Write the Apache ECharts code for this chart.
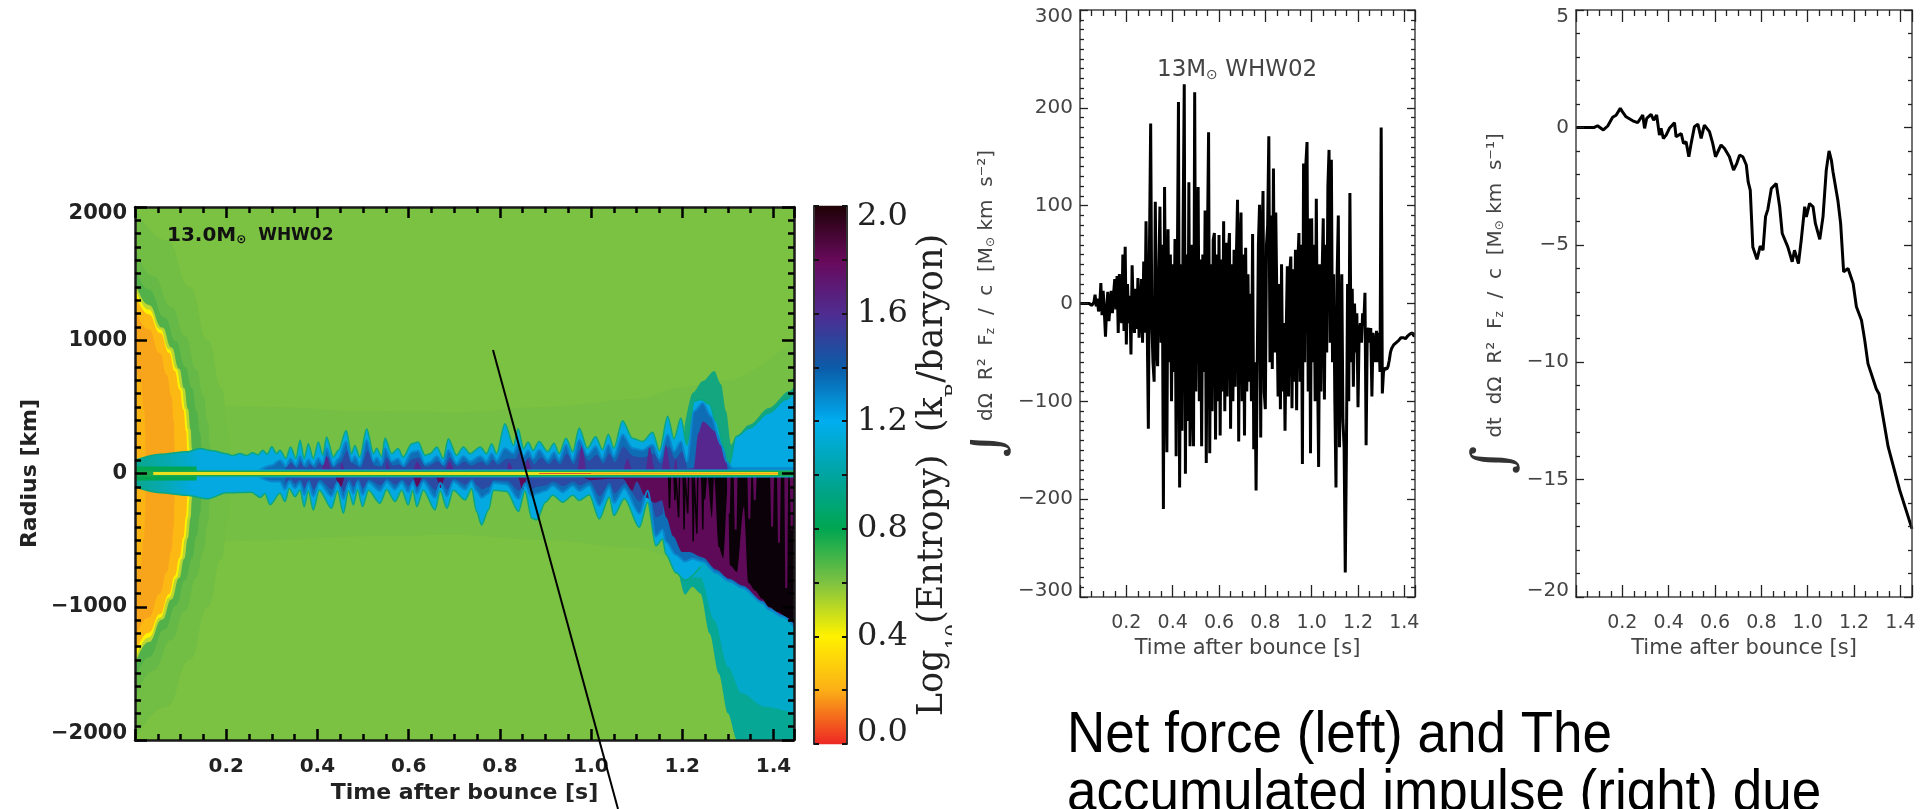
<!DOCTYPE html>
<html><head><meta charset="utf-8"><style>html,body{margin:0;padding:0;background:#fff}#c{width:1928px;height:809px}</style>
<script src="https://cdn.jsdelivr.net/npm/echarts@6/dist/echarts.min.js"></script></head>
<body><div id="c"></div>
<script>
const timeMax=[1.445,1.446,1.45];
const forceStep=0.005;
const forceValues=[
0,0,0,0,0,0,0,0,0,-1,-2,-1,1,9,-3,5,-8,-4,21,-12,
13,-8,-34,-5,12,-18,-2,13,-10,10,25,-6,28,-30,30,-12,-20,50,-28,58,
-42,20,-20,8,-52,39,-10,-30,15,-26,26,-35,-10,25,-40,43,-30,84,-20,-128,
60,184,-20,-60,-80,104,-40,-64,30,99,-40,60,-210,119,-30,-152,76,-60,50,-100,
40,-70,66,-156,30,206,-188,40,-130,80,224,-174,50,-120,124,-146,60,-90,-146,216,
-90,50,119,-100,45,-146,50,-70,95,-163,60,175,-153,40,-110,65,72,-139,50,-100,
70,-135,45,-90,84,-110,62,-95,50,72,-128,40,-100,55,-85,48,106,-141,55,93,
-100,50,-135,57,-90,30,-80,10,-100,71,-149,-60,-191,-192,60,101,-137,55,115,-90,
-108,60,80,171,-60,90,-67,138,-50,93,92,-95,20,-108,40,-90,-20,-130,-30,38,
-95,30,48,-107,35,-80,55,-109,40,72,-80,60,-164,143,-60,143,165,-90,87,-153,
87,-60,60,-100,107,-60,-167,40,-90,30,87,-98,60,-50,120,157,-40,147,-60,30,
-100,-188,30,90,-147,-60,30,-120,-147,-275,-150,20,-100,113,-60,15,-85,0,-50,-10,
-106,-30,-20,-40,-10,-20,11,-145,-30,-25,-40,-25,-95,-30,-30,-60,-28,-60,-30,-70,
180,-92,-70,-66,-68,-67,-64,-58,-50,-46,-44,-42,-42,-40,-38,-38,-37,-35,-36,-35,
-34,-36,-35,-33,-35,-31,-29,-30,-33,-33
];
const impulseCurve=[[0,0],[.079,0],[.093,.07],[.118,-.11],[.137,.06],[.158,.43],[.173,.52],[.191,.81],[.2,.67],[.216,.45],[.245,.28],[.266,.2],[.288,.53],[.296,-.04],[.305,.38],[.324,.55],[.335,.31],[.348,.53],[.36,-.33],[.367,-.04],[.377,-.47],[.389,-.33],[.403,-.04],[.425,.2],[.432,-.4],[.454,-.26],[.464,-.68],[.475,-.61],[.487,-1.25],[.497,-.68],[.511,.03],[.526,.14],[.54,-.47],[.554,.1],[.576,-.18],[.59,-.68],[.602,-1.25],[.626,-.75],[.641,-.9],[.662,-1.25],[.68,-1.82],[.694,-1.53],[.706,-1.18],[.72,-1.25],[.735,-1.6],[.743,-2.32],[.752,-2.67],[.763,-5.09],[.781,-5.62],[.795,-5.06],[.807,-5.23],[.818,-3.8],[.828,-3.49],[.843,-2.6],[.864,-2.39],[.879,-3.38],[.89,-4.52],[.914,-5.09],[.933,-5.72],[.943,-5.23],[.96,-5.8],[.972,-4.8],[.987,-3.38],[.994,-3.81],[1.008,-3.24],[1.023,-3.38],[1.033,-4.09],[1.052,-4.77],[1.066,-3.8],[1.08,-1.82],[1.092,-1],[1.102,-1.39],[1.109,-1.89],[1.13,-3.1],[1.142,-4.09],[1.155,-6.15],[1.174,-6.01],[1.196,-6.65],[1.21,-7.64],[1.232,-8.21],[1.246,-9.06],[1.26,-10.06],[1.296,-11.14],[1.308,-11.35],[1.347,-13.6],[1.397,-15.45],[1.45,-17.1]];
const fieldInner=[[.13,520],[.3,500],[.5,470],[.7,460],[.9,500],[1.1,560],[1.2,650],[1.3,700],[1.445,1000]];
const shellOuter=[[0,2000],[.07,1750],[.12,1400],[.16,1000],[.19,640],[.205,330],[.21,0]];
const shellSecond=[[0,1700],[.04,1480],[.08,1250],[.11,1030],[.135,780],[.15,580],[.16,380],[.165,200],[.168,0]];
const shellBand=[[0,1560],[.03,1380],[.065,1170],[.09,990],[.11,800],[.125,640],[.135,470],[.143,300],[.147,150],[.15,0]];
const shellPale=[[0,1440],[.03,1265],[.06,1095],[.08,945],[.097,785],[.108,640],[.116,485],[.122,330],[.125,187],[.127,0]];
const shellYellow=[[0,1400],[.03,1230],[.055,1082],[.075,930],[.091,783],[.102,640],[.11,485],[.116,330],[.119,187],[.122,0]];
const shellOrange=[[0,1360],[.03,1195],[.055,1055],[.075,905],[.087,770],[.098,630],[.106,480],[.112,320],[.115,180],[.118,0]];
const shellCore=[[0,1240],[.03,1080],[.055,900],[.07,740],[.08,580],[.085,400],[.087,200],[.088,0]];
const shellEdge=[[0,820],[.012,700],[.02,480],[.024,0]];
const tealHumpUpper=[[1.205,350],[1.223,606],[1.245,694],[1.27,770],[1.285,669],[1.296,467],[1.307,215],[1.318,278],[1.347,366],[1.39,492],[1.435,619],[1.445,650]];
const tealLower=[[1.19,-700],[1.206,-909],[1.222,-850],[1.24,-900],[1.26,-1200],[1.28,-1500],[1.30,-1800],[1.32,-2000],[1.445,-2000]];
const cyanWedgeLower=[[1.18,-500],[1.21,-780],[1.24,-780],[1.27,-1100],[1.30,-1450],[1.33,-1650],[1.38,-1750],[1.445,-1800]];
const cyanUpper=[[0,99],[.055,144],[.113,163],[.142,187],[.17,170],[.2,149],[.215,135],[.23,150],[.245,135],[.258,155],[.27,140],[.28,175],[.29,145],[.3,200],[.31,150],[.318,174],[.331,112],[.341,199],[.353,112],[.362,249],[.371,112],[.38,224],[.391,112],[.402,236],[.412,137],[.42,274],[.435,124],[.446,174],[.463,323],[.475,149],[.482,211],[.493,124],[.508,336],[.523,149],[.53,190],[.541,124],[.548,266],[.563,149],[.577,187],[.588,124],[.607,224],[.621,236],[.636,137],[.647,149],[.662,199],[.676,112],[.687,261],[.705,137],[.72,199],[.735,149],[.757,199],[.771,149],[.782,224],[.793,149],[.811,373],[.83,211],[.84,336],[.852,187],[.862,236],[.873,174],[.886,240],[.905,164],[.919,227],[.93,150],[.945,265],[.96,164],[.974,341],[.992,190],[1.01,278],[1.025,180],[1.038,295],[1.05,190],[1.069,396],[1.091,265],[1.113,240],[1.135,310],[1.15,170],[1.168,430],[1.182,260],[1.197,417],[1.21,215],[1.226,543],[1.241,555],[1.26,518],[1.274,391],[1.292,190],[1.303,63],[1.318,278],[1.347,340],[1.39,455],[1.427,555],[1.445,606]];
const cyanLower=[[0,-100],[.055,-144],[.113,-163],[.159,-190],[.2,-145],[.255,-140],[.275,-180],[.285,-150],[.296,-235],[.318,-149],[.329,-211],[.338,-112],[.351,-174],[.362,-124],[.371,-249],[.38,-130],[.391,-274],[.404,-125],[.431,-261],[.444,-130],[.457,-299],[.468,-130],[.479,-236],[.488,-120],[.499,-249],[.512,-125],[.537,-224],[.552,-120],[.57,-211],[.585,-125],[.599,-236],[.609,-125],[.618,-249],[.632,-125],[.658,-274],[.669,-130],[.684,-261],[.698,-125],[.724,-199],[.738,-115],[.749,-286],[.76,-386],[.775,-274],[.786,-125],[.815,-135],[.841,-286],[.855,-130],[.87,-336],[.881,-348],[.9,-215],[.916,-164],[.938,-215],[.96,-164],[.974,-202],[.996,-160],[1.018,-341],[1.04,-177],[1.05,-316],[1.073,-189],[1.106,-404],[1.124,-215],[1.142,-543],[1.157,-492],[1.164,-606],[1.186,-745],[1.206,-800],[1.24,-700]];
const blueUpper=[[.27,20],[.3,60],[.318,100],[.331,55],[.341,110],[.353,60],[.362,130],[.371,60],[.38,105],[.391,60],[.402,115],[.412,70],[.42,190],[.435,60],[.446,110],[.463,240],[.475,90],[.482,130],[.493,65],[.508,250],[.523,90],[.53,120],[.541,70],[.548,190],[.563,90],[.577,110],[.588,60],[.607,160],[.621,170],[.636,70],[.647,85],[.662,130],[.676,70],[.687,175],[.705,75],[.72,130],[.735,90],[.757,130],[.771,90],[.782,150],[.793,95],[.811,190],[.83,150],[.84,220],[.852,130],[.862,170],[.873,110],[.886,177],[.905,100],[.919,160],[.93,100],[.945,215],[.96,100],[.974,252],[.992,138],[1.01,202],[1.025,110],[1.038,215],[1.05,125],[1.069,290],[1.091,190],[1.113,175],[1.135,215],[1.15,110],[1.168,290],[1.182,165],[1.197,240],[1.21,88],[1.226,467],[1.245,530],[1.263,429],[1.285,215],[1.297,88],[1.31,40],[1.445,40]];
const blueLower=[[.27,-20],[.3,-60],[.318,-60],[.329,-120],[.338,-60],[.351,-110],[.362,-70],[.371,-160],[.38,-70],[.391,-170],[.404,-70],[.431,-170],[.444,-70],[.457,-190],[.468,-70],[.479,-150],[.488,-60],[.499,-160],[.512,-65],[.537,-130],[.552,-60],[.57,-120],[.585,-65],[.599,-140],[.609,-65],[.618,-150],[.632,-60],[.658,-180],[.669,-70],[.684,-170],[.698,-60],[.724,-120],[.738,-60],[.749,-130],[.76,-180],[.775,-150],[.786,-70],[.815,-80],[.841,-190],[.855,-75],[.87,-170],[.881,-150],[.9,-130],[.916,-90],[.938,-140],[.96,-90],[.974,-130],[.996,-90],[1.018,-240],[1.04,-100],[1.05,-220],[1.073,-110],[1.106,-300],[1.124,-130],[1.142,-470],[1.157,-420],[1.164,-510],[1.186,-610],[1.206,-660],[1.222,-640],[1.245,-660],[1.274,-745],[1.303,-808],[1.332,-858],[1.376,-972],[1.391,-1023],[1.42,-1073],[1.445,-1150]];
const indigoUpper=[[.33,40],[.345,85],[.355,40],[.365,95],[.375,40],[.385,70],[.395,40],[.405,80],[.415,50],[.423,130],[.435,45],[.45,80],[.465,170],[.48,70],[.495,45],[.51,170],[.525,60],[.54,50],[.552,120],[.566,60],[.58,70],[.59,45],[.61,110],[.622,120],[.638,50],[.665,90],[.678,50],[.69,120],[.706,55],[.722,90],[.737,60],[.76,90],[.773,60],[.785,105],[.795,65],[.815,110],[.835,110],[.842,160],[.855,90],[.865,120],[.875,70],[.89,120],[.907,70],[.92,110],[.932,70],[.947,150],[.962,70],[.976,180],[.995,95],[1.012,140],[1.027,75],[1.04,150],[1.052,85],[1.071,200],[1.093,130],[1.115,120],[1.137,150],[1.152,75],[1.17,200],[1.184,110],[1.2,165],[1.21,60]];
const indigoLower=[[.33,-85],[.34,-40],[.352,-75],[.362,-45],[.372,-110],[.382,-45],[.392,-120],[.405,-45],[.432,-120],[.445,-45],[.458,-135],[.47,-45],[.48,-100],[.49,-40],[.5,-110],[.513,-45],[.538,-90],[.553,-40],[.571,-85],[.586,-45],[.6,-95],[.61,-45],[.619,-105],[.633,-40],[.659,-125],[.67,-48],[.685,-120],[.699,-40],[.725,-85],[.739,-40],[.75,-90],[.761,-120],[.776,-100],[.787,-48],[.816,-55],[.842,-130],[.856,-50],[.871,-115],[.882,-100],[.9,-90],[.917,-60],[.939,-95],[.961,-60],[.975,-90],[.997,-60],[1.019,-170],[1.041,-70],[1.051,-150],[1.074,-75],[1.107,-210],[1.125,-90],[1.143,-330],[1.158,-300]];
const purpleUpper=[[.41,30],[.42,130],[.43,30],[.45,30],[.453,80],[.46,30],[.55,30],[.552,90],[.56,30],[.61,30],[.618,90],[.63,30],[.68,30],[.69,90],[.70,30],[.815,30],[.82,85],[.83,30],[.856,30],[.86,110],[.87,30],[.97,30],[.98,215],[.99,30],[1.07,30],[1.08,113],[1.09,30],[1.12,30],[1.128,202],[1.14,30],[1.155,30],[1.164,215],[1.175,30],[1.18,30],[1.186,110],[1.19,30],[1.225,40],[1.235,300],[1.245,391],[1.274,315],[1.292,164],[1.30,20]];
const purpleLower=[[.44,-30],[.452,-100],[.46,-30],[.61,-30],[.618,-100],[.63,-30],[.66,-30],[.67,-110],[.68,-30],[.84,-30],[.85,-130],[.86,-30],[.98,-30],[1.0,-50],[1.04,-40],[1.07,-40],[1.09,-130],[1.10,-60],[1.12,-180],[1.14,-220],[1.155,-200],[1.165,-330],[1.18,-470],[1.2,-590],[1.215,-590],[1.245,-630],[1.274,-720],[1.303,-790],[1.332,-840],[1.376,-955],[1.391,-1005],[1.42,-1060],[1.445,-1130]];
const blackLower=[[1.24,-20],[1.25,-200],[1.255,-20],[1.265,-330],[1.27,-20],[1.28,-550],[1.29,-640],[1.30,-100],[1.305,-690],[1.32,-740],[1.335,-250],[1.345,-820],[1.36,-880],[1.375,-940],[1.39,-1000],[1.41,-1040],[1.43,-1080],[1.445,-1120]];
const blackStreaks=[[1.17,-20],[1.172,-260],[1.174,-20],[1.182,-20],[1.184,-200],[1.186,-20],[1.19,-20],[1.192,-330],[1.194,-20],[1.202,-20],[1.204,-420],[1.206,-20],[1.21,-20],[1.212,-300],[1.214,-20],[1.222,-20],[1.224,-510],[1.226,-20],[1.23,-20],[1.232,-450],[1.234,-20],[1.243,-20],[1.245,-420],[1.247,-20]];
const purpleStreaks=[[1.30,-20],[1.302,-300],[1.304,-20],[1.315,-20],[1.317,-420],[1.319,-20],[1.345,-20],[1.347,-340],[1.349,-20],[1.357,-20],[1.359,-200],[1.361,-20],[1.395,-20],[1.397,-400],[1.399,-20],[1.41,-20],[1.412,-520],[1.414,-20],[1.426,-20],[1.428,-860],[1.43,-20],[1.438,-20],[1.44,-420],[1.442,-20]];
const coreWide=[[0,0],[.135,0]], coreStrip=[[.14,0],[1.445,0]], coreGreen=[[0,0],[1.445,0]], coreYellow=[[.04,0],[1.41,0]], coreRed=[[.886,0],[1.0,0]], coreOrange=[[1.0,0],[1.41,0]];
const colorStops=['#ee2a24','#fbb017','#fff200','#7ec242','#00a651','#00a5a0','#00aeef','#0b5ca8','#4f2d91','#680a5c','#200208'];
const barLevels=Array.from({length:269},(_,i)=>i/134);
const barLabels=[0,.4,.8,1.2,1.6,2];

const minus=v=>String(v).replace('-','\u2212');
const boldFont={fontFamily:'DejaVu Sans',fontWeight:'bold',color:'#222'};
const thinFont={fontFamily:'DejaVu Sans',color:'#444'};
function xPair(g,max,line,tick,major,minor,lab){const c={type:'value',gridIndex:g,min:0,max,interval:.2,z:10,
  axisLine:{show:true,onZero:false,lineStyle:line},splitLine:{show:false},
  axisTick:{show:true,inside:true,length:major,lineStyle:tick},
  minorTick:{show:true,splitNumber:4,length:minor,lineStyle:tick}};
  return [Object.assign({},c,lab,{position:'bottom'}),Object.assign({},c,{position:'top',axisLabel:{show:false}})];}
function yPair(g,min,max,iv,split,line,tick,major,minor,lab){const c={type:'value',gridIndex:g,min,max,interval:iv,z:10,
  axisLine:{show:true,onZero:false,lineStyle:line},splitLine:{show:false},
  axisTick:{show:true,inside:true,length:major,lineStyle:tick},
  minorTick:{show:true,splitNumber:split,length:minor,lineStyle:tick}};
  return [Object.assign({},c,lab,{position:'left'}),Object.assign({},c,{position:'right',axisLabel:{show:false}})];}
const darkLine={color:'#1a1a1a',width:2.5},darkTick={color:'#000',width:2.5};
const greyLine={color:'#444',width:1.5},greyTick={color:'#222',width:1.3};
const fmtX=v=>v.toFixed(1);
const tickLab=(size,extra)=>Object.assign({fontSize:size,showMinLabel:false,showMaxLabel:false,formatter:fmtX},extra);

const xAxis=[
 ...xPair(0,timeMax[0],darkLine,darkTick,11,6,{axisLabel:tickLab(20,Object.assign({margin:17},boldFont)),name:'Time after bounce [s]',nameLocation:'middle',nameGap:42,nameTextStyle:Object.assign({fontSize:22},boldFont)}),
 ...xPair(1,timeMax[1],greyLine,greyTick,12,6,{axisLabel:tickLab(19,Object.assign({margin:17},thinFont)),name:'Time after bounce [s]',nameLocation:'middle',nameGap:40,nameTextStyle:Object.assign({fontSize:21},thinFont)}),
 ...xPair(2,timeMax[2],greyLine,greyTick,12,6,{axisLabel:tickLab(19,Object.assign({margin:17},thinFont)),name:'Time after bounce [s]',nameLocation:'middle',nameGap:40,nameTextStyle:Object.assign({fontSize:21},thinFont)}),
 {type:'category',gridIndex:3,data:['s'],axisLine:{show:false},axisTick:{show:false},axisLabel:{show:false}}
];
const ends={verticalAlignMinLabel:'bottom',verticalAlignMaxLabel:'top',lineHeight:13,formatter:minus};
const yRich={i:{fontFamily:'DejaVu Serif',fontSize:54,color:'#333',padding:[0,8,0,0]},t:{fontFamily:'DejaVu Sans',fontSize:20,color:'#444'},s:{fontFamily:'DejaVu Sans',fontSize:12,color:'#444',padding:[8,0,0,0]}};
const yAxis=[
 ...yPair(0,-2000,2000,1000,10,darkLine,darkTick,12,6,{axisLabel:Object.assign({fontSize:21,margin:8},boldFont,ends),name:'Radius [km]',nameLocation:'middle',nameGap:94,nameRotate:90,nameTextStyle:Object.assign({fontSize:22},boldFont)}),
 ...yPair(1,-300,300,100,10,greyLine,greyTick,8,4,{axisLabel:Object.assign({fontSize:20,margin:7},thinFont,ends),name:'{i|\u222B}{t|d\u03A9  R\u00B2  F}{s|z}{t|  /  c  [M}{s|\u2299}{t| km  s\u207B\u00B2]}',nameLocation:'middle',nameGap:60,nameRotate:90,nameTextStyle:{rich:yRich}}),
 ...yPair(2,-20,5,5,5,greyLine,greyTick,8,4,{axisLabel:Object.assign({fontSize:20,margin:7},thinFont,ends),name:'{i|\u222B}{t|dt  d\u03A9  R\u00B2  F}{s|z}{t|  /  c  [M}{s|\u2299}{t| km  s\u207B\u00B9]}',nameLocation:'middle',nameGap:49,nameRotate:90,nameTextStyle:{rich:yRich}}),
 {type:'category',gridIndex:3,data:barLevels,axisLine:{show:false},axisTick:{show:false},axisLabel:{show:false}},
 {type:'value',gridIndex:3,position:'left',min:0,max:2,interval:.2,z:10,axisLine:{show:true,onZero:false,lineStyle:{color:'#333',width:2}},splitLine:{show:false},axisTick:{show:true,inside:true,length:5,lineStyle:{color:'#111',width:2}},axisLabel:{show:false}},
 {type:'value',gridIndex:3,position:'right',min:0,max:2,interval:.2,z:10,axisLine:{show:true,onZero:false,lineStyle:{color:'#333',width:2}},splitLine:{show:false},axisTick:{show:true,inside:true,length:5,lineStyle:{color:'#111',width:2}},
   axisLabel:{margin:10,fontSize:32,lineHeight:22,fontFamily:'DejaVu Serif',color:'#222',verticalAlignMinLabel:'bottom',verticalAlignMaxLabel:'top',customValues:barLabels,formatter:v=>v.toFixed(1)},
   name:'{a|Log}{b|10}{a|(Entropy)  (k}{b|B}{a|/baryon)}',nameLocation:'middle',nameRotate:90,nameGap:54,nameTextStyle:{rich:{a:{fontFamily:'DejaVu Serif',fontSize:35,color:'#222'},b:{fontFamily:'DejaVu Serif',fontSize:20,color:'#222',verticalAlign:'bottom',lineHeight:64}}}}
];
function layer(data,color,opt){return Object.assign({type:'line',xAxisIndex:0,yAxisIndex:0,data,showSymbol:false,symbol:'none',silent:true,animation:false,smooth:.3,smoothMonotone:'x',lineStyle:{width:0},areaStyle:{color,opacity:1,origin:0}},opt||{});}
function flip(a){return a.map(p=>[p[0],-p[1]]);}
function both(a,color,opt){return [layer(a,color,opt),layer(flip(a),color,opt)];}
function stroke(data,color,width,opt){return Object.assign({type:'line',xAxisIndex:0,yAxisIndex:0,data,showSymbol:false,symbol:'none',silent:true,animation:false,lineStyle:{color,width,cap:'butt'}},opt||{});}
const cyanGrad=new echarts.graphic.LinearGradient(0,0,1,0,[{offset:0,color:'#0aa68e'},{offset:.055,color:'#06a9b5'},{offset:.1,color:'#03a9e0'},{offset:1,color:'#03a9e0'}]);
const series=[
 ...both(fieldInner,'#75bf44'),
 ...both(shellOuter,'#72be44',{smooth:true}),
 ...both(shellSecond,'#66b946',{smooth:true}),
 ...both(shellBand,'#52b149',{smooth:true}),
 ...both(shellPale,'#bcd632',{smooth:true}),
 ...both(shellYellow,'#fff200',{smooth:true}),
 ...both(shellOrange,'#fdb913',{smooth:true}),
 ...both(shellCore,'#f9a51b',{smooth:true}),
 ...both(shellEdge,'#fcb415',{smooth:true}),
 layer(tealLower,'#06a794'),
 layer(cyanWedgeLower,'#03a9c8'),
 layer(tealHumpUpper,'#14a67e'),
 layer(cyanUpper,cyanGrad,{lineStyle:{width:1.5,color:'#0aa682'}}),
 layer(cyanLower,cyanGrad,{lineStyle:{width:1.5,color:'#0aa682'}}),
 layer(blueUpper,'#0f6db6',{lineStyle:{width:2,color:'#0b86cc'}}),
 layer(blueLower,'#0f6db6',{lineStyle:{width:2,color:'#0b86cc'}}),
 layer(indigoUpper,'#2a4aa4'),
 layer(indigoLower,'#2a4aa4'),
 layer(purpleUpper,'#56288f'),
 layer(purpleLower,'#5f0a58'),
 layer(blackLower,'#0a0208'),
 stroke(blackStreaks,'#0a0208',1.5),
 stroke(purpleStreaks,'#5f0a58',2),
 stroke(coreStrip,'#05a9dc',8),
 stroke(coreWide,'#00a651',14),
 stroke(coreGreen,'#1aa84f',6),
 stroke(coreYellow,'#e9e01f',3),
 stroke(coreRed,'#ef5a24',1.2),
 stroke(coreOrange,'#f9a51b',1.5),
 {type:'line',xAxisIndex:2,yAxisIndex:2,data:forceValues.map((v,i)=>[i*forceStep,v]),showSymbol:false,symbol:'none',silent:true,animation:false,sampling:null,lineStyle:{color:'#000',width:3,join:'bevel'}},
 {type:'line',xAxisIndex:4,yAxisIndex:4,data:impulseCurve,showSymbol:false,symbol:'none',silent:true,animation:false,lineStyle:{color:'#000',width:3}},
 {type:'heatmap',xAxisIndex:6,yAxisIndex:6,data:barLevels.map((v,i)=>[0,i,v]),silent:true,animation:false,progressive:0,itemStyle:{borderWidth:0}}
];
const chart=echarts.init(document.getElementById('c'),null,{renderer:'canvas',width:1928,height:809});
chart.setOption({
 animation:false,backgroundColor:'#fff',
 grid:[
  {left:135,top:207,width:659,height:536,show:true,backgroundColor:'#7bc142',borderWidth:0},
  {left:1080,top:10,width:335,height:587},
  {left:1576,top:10,width:336,height:587},
  {left:814,top:206,width:33,height:538}
 ],
 xAxis,yAxis,series,
 visualMap:{show:false,type:'continuous',seriesIndex:series.length-1,dimension:2,min:0,max:2,inRange:{color:colorStops}},
 graphic:[
  {type:'rect',z:50,shape:{x:952,y:200,width:18,height:545},style:{fill:'#fff'}},
  {type:'line',z:60,shape:{x1:493,y1:350,x2:618,y2:809},style:{stroke:'#000',lineWidth:2}},
  {type:'text',z:60,x:167,y:226,style:{text:'{a|13.0M}{b|\u2299}{c|  WHW02}',rich:{a:{fontFamily:'DejaVu Sans',fontWeight:'bold',fontSize:20,fill:'#111'},b:{fontFamily:'DejaVu Sans',fontWeight:'bold',fontSize:12,fill:'#111',padding:[8,0,0,0]},c:{fontFamily:'DejaVu Sans',fontWeight:'bold',fontSize:17,fill:'#111'}}}},
  {type:'text',z:60,x:1157,y:58,style:{text:'{a|13M}{b|\u2299}{a| WHW02}',rich:{a:{fontFamily:'DejaVu Sans',fontSize:23,fill:'#444'},b:{fontFamily:'DejaVu Sans',fontSize:14,fill:'#444',padding:[10,0,0,0]}}}},
  {type:'text',z:60,x:1067,y:708,scaleY:1.08,style:{text:'Net force (left) and The',fontFamily:'Liberation Sans',fontSize:53,fill:'#000'}},
  {type:'text',z:60,x:1067,y:766,scaleY:1.08,style:{text:'accumulated impulse (right) due',fontFamily:'Liberation Sans',fontSize:53,fill:'#000'}}
 ]
});
</script></body></html>
